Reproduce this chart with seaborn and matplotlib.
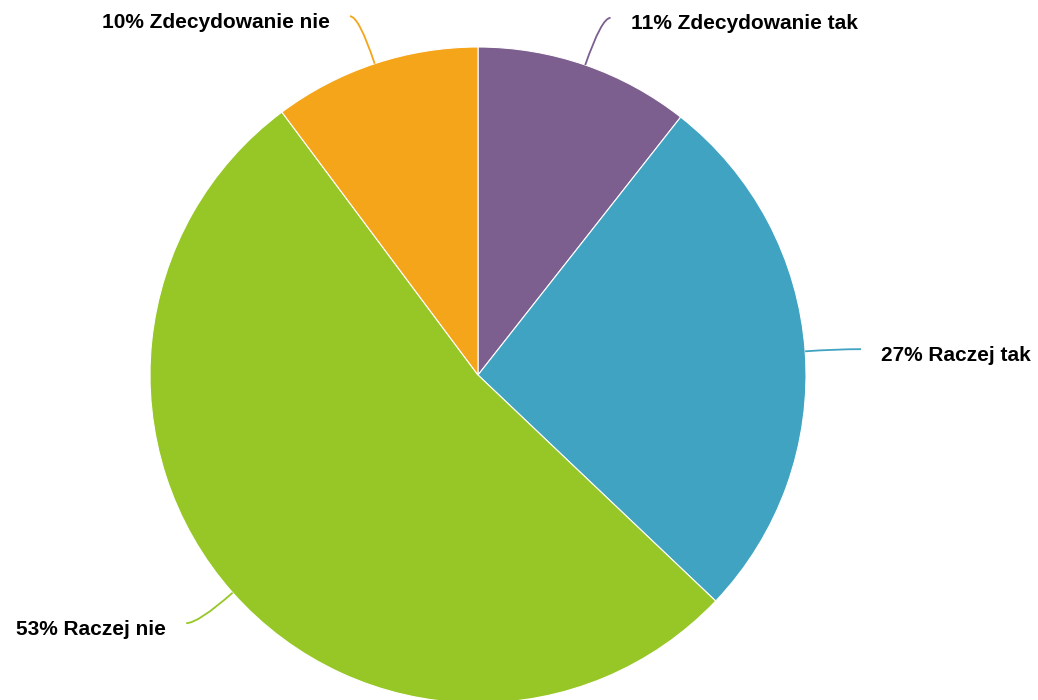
import numpy as np
import matplotlib
matplotlib.use('Agg')
import matplotlib.pyplot as plt
from matplotlib.path import Path
from matplotlib.patches import PathPatch
import seaborn as sns

# data, clockwise from the top
labels = ['Zdecydowanie tak', 'Raczej tak', 'Raczej nie', 'Zdecydowanie nie']
shares = [10.6, 26.5, 52.7, 10.2]
pct_text = ['11%', '27%', '53%', '10%']
colors = ['#7C5F8E', '#41A3C2', '#97C726', '#F5A51A']

sns.set_theme(style='white')
plt.rcParams['font.family'] = ['Liberation Sans', 'DejaVu Sans']

fig = plt.figure(figsize=(10.38, 7), dpi=100)
ax = fig.add_axes([0, 0, 1, 1])

cx, cy, r = 478, 325, 328
wedges, _ = ax.pie(shares, colors=sns.color_palette(colors), startangle=90,
                   counterclock=False, center=(cx, cy), radius=r,
                   wedgeprops=dict(edgecolor='white', linewidth=0.8))
ax.set_xlim(0, 1038)
ax.set_ylim(0, 700)
ax.set_aspect('equal')
ax.axis('off')

# leader line settings: radial reach, horizontal run
leaders = [(50, 9), (30, 26), (46, -12), (50, -9)]

for w, lab, pt, col, (d, h) in zip(wedges, labels, pct_text, colors, leaders):
    ang = np.deg2rad((w.theta1 + w.theta2) / 2)
    ux, uy = np.cos(ang), np.sin(ang)
    x0, y0 = cx + r * ux, cy + r * uy
    x1, y1 = x0 + d * ux, y0 + d * uy
    x2, y2 = x1 + h, y1
    path = Path([(x0, y0), (x1, y1), (x2, y2)],
                [Path.MOVETO, Path.CURVE3, Path.CURVE3])
    ax.add_patch(PathPatch(path, fc='none', ec=col, lw=1.3, clip_on=False))
    side = 1 if h > 0 else -1
    ax.text(x2 + side * 20, y2 - 6, f'{pt} {lab}',
            ha='left' if side > 0 else 'right', va='center',
            fontsize=15, fontweight='bold', color='black')

fig.savefig('out.png', dpi=100)
